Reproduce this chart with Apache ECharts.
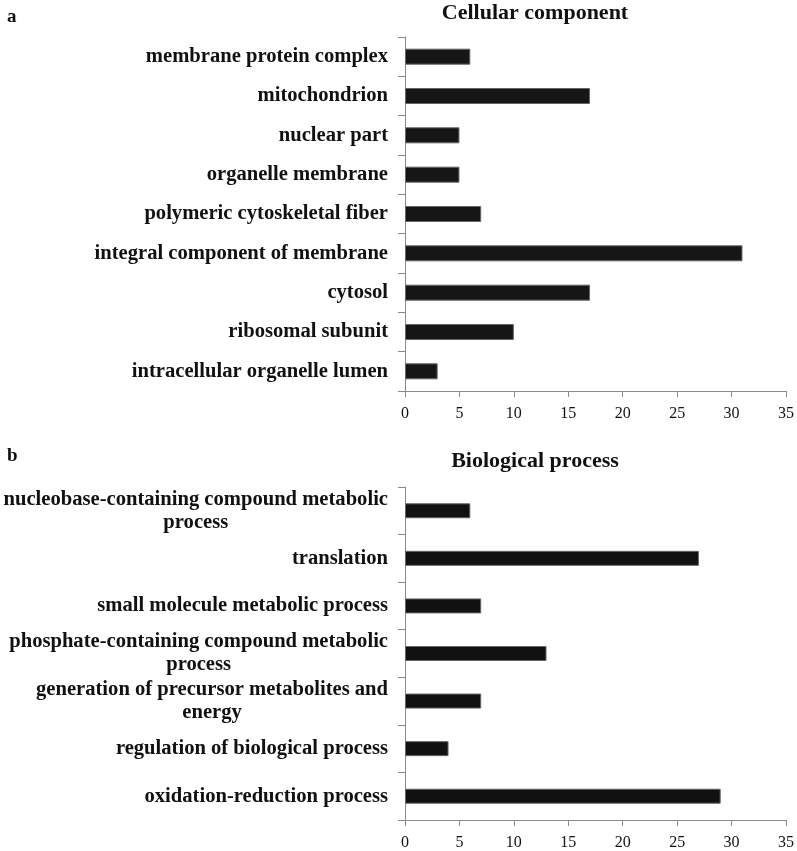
<!DOCTYPE html>
<html>
<head>
<meta charset="utf-8">
<title>GO terms</title>
<script src="https://cdn.jsdelivr.net/npm/echarts@6/dist/echarts.min.js"></script>
<style>
	html, body {margin: 0; padding: 0; background: #fff;}
	#main {width: 797px; height: 851px;}
</style>
</head>
<body>
<div id="main"></div>
<script>
/*数据*/
var ccTerms = ['membrane protein complex', 'mitochondrion', 'nuclear part', 'organelle membrane',
	'polymeric cytoskeletal fiber', 'integral component of membrane', 'cytosol',
	'ribosomal subunit', 'intracellular organelle lumen'];
var ccCounts = [6, 17, 5, 5, 7, 31, 17, 10, 3];

var bpTerms = ['nucleobase-containing compound metabolic\nprocess', 'translation',
	'small molecule metabolic process', 'phosphate-containing compound metabolic\nprocess',
	'generation of precursor metabolites and\nenergy', 'regulation of biological process',
	'oxidation-reduction process'];
var bpCounts = [6, 27, 7, 13, 7, 4, 29];

var xTicks = [0, 5, 10, 15, 20, 25, 30, 35];

var serif = "'Liberation Serif', 'Times New Roman', serif";
var axisGray = '#8a8a8a';

function labelFmt(v) {
	// 每行居中
	return v.split('\n').map(function(s) { return '{c|' + s + '}'; }).join('\n');
}

function xAxisOf(idx) {
	return {
		type: 'value', gridIndex: idx,
		min: xTicks[0], max: xTicks[xTicks.length - 1], interval: 5,
		splitLine: {show: false},
		axisLine: {show: true, lineStyle: {color: axisGray, width: 1}},
		axisTick: {show: true, length: 6, lineStyle: {color: axisGray}},
		axisLabel: {fontFamily: serif, fontSize: 16, color: '#111', margin: 15}
	};
}

function yAxisOf(idx, terms) {
	return {
		type: 'category', gridIndex: idx, inverse: true, data: terms,
		axisLine: {show: true, lineStyle: {color: axisGray, width: 1}},
		axisTick: {show: true, length: 7, lineStyle: {color: axisGray}},
		axisLabel: {
			interval: 0, margin: 17, formatter: labelFmt,
			rich: {c: {fontFamily: serif, fontWeight: 'bold', fontSize: 20.6, color: '#111', align: 'center', lineHeight: 23}}
		}
	};
}

var myChart = echarts.init(document.getElementById('main'));
var option = {
	animation: false,
	title: [{
		text: 'Cellular component', left: 530, top: -3, textAlign: 'center',
		textStyle: {fontFamily: serif, fontWeight: 'bold', fontSize: 22, color: '#111'}
	}, {
		text: 'Biological process', left: 530, top: 445, textAlign: 'center',
		textStyle: {fontFamily: serif, fontWeight: 'bold', fontSize: 22, color: '#111'}
	}],
	graphic: [
		{type: 'text', left: 7, top: 8, style: {text: 'a', font: 'bold 19px ' + serif, fill: '#111'}},
		{type: 'text', left: 7, top: 447, style: {text: 'b', font: 'bold 19px ' + serif, fill: '#111'}}
	],
	grid: [
		{left: 405, right: 10, top: 37, height: 354},
		{left: 405, right: 10, top: 487, height: 335}
	],
	xAxis: [xAxisOf(0), xAxisOf(1)],
	yAxis: [yAxisOf(0, ccTerms), yAxisOf(1, bpTerms)],
	series: [{
		type: 'bar', xAxisIndex: 0, yAxisIndex: 0, data: ccCounts, barWidth: 16,
		itemStyle: {color: '#161616', borderColor: '#666', borderWidth: 1}
	}, {
		type: 'bar', xAxisIndex: 1, yAxisIndex: 1, data: bpCounts, barWidth: 15,
		itemStyle: {color: '#111', borderColor: '#666', borderWidth: 1}
	}]
};
myChart.setOption(option);
</script>
</body>
</html>
